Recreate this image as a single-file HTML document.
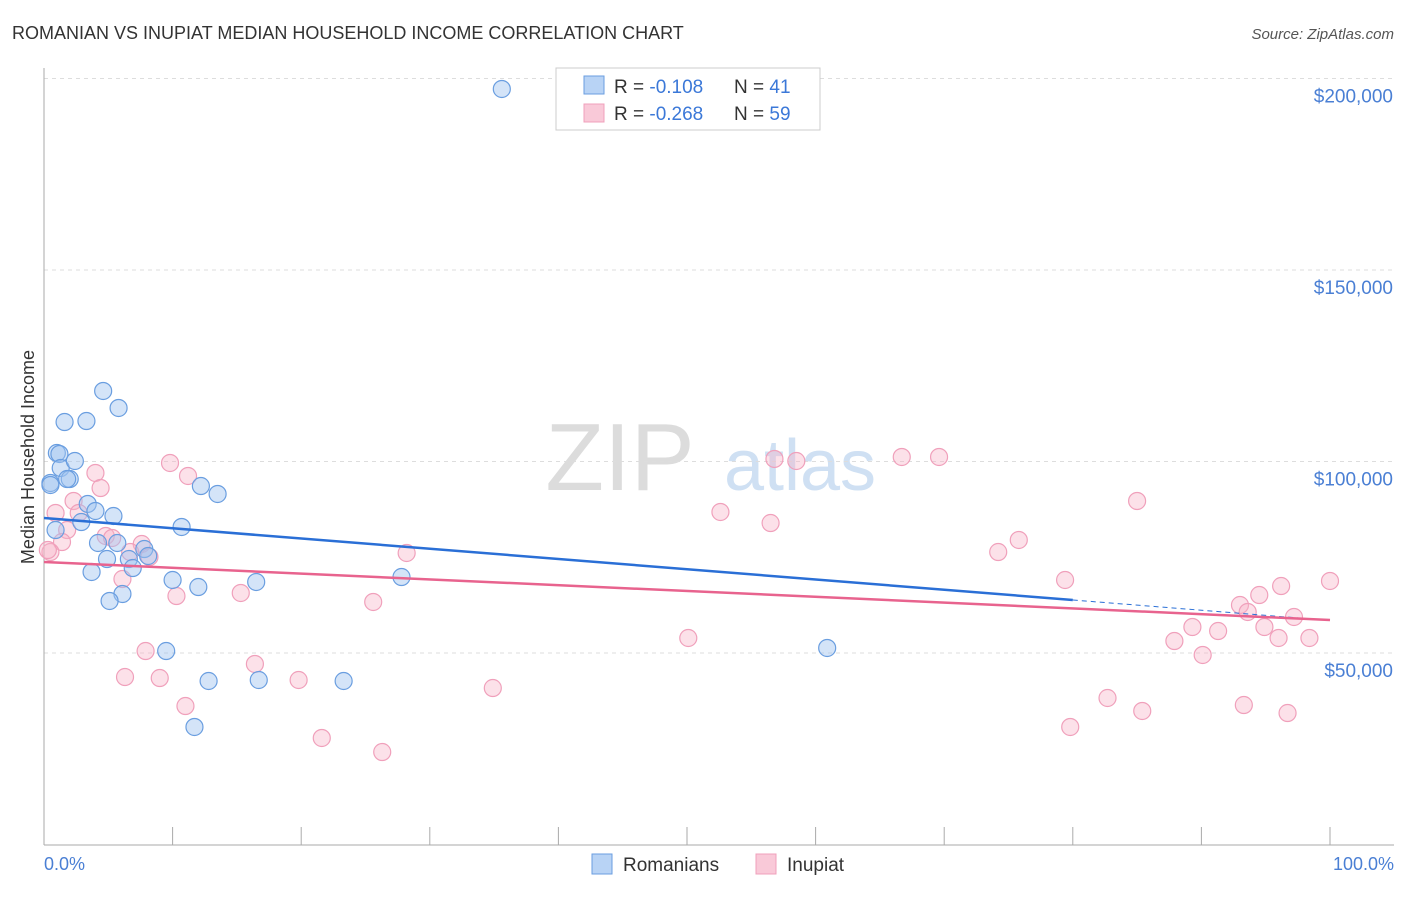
<!DOCTYPE html>
<html><head><meta charset="utf-8"><style>
body{margin:0;background:#fff;font-family:"Liberation Sans",sans-serif;}
svg text{font-family:"Liberation Sans",sans-serif;}
</style></head><body>
<svg id="chart" width="1406" height="892">
<text x="12" y="39" font-size="18" fill="#333">ROMANIAN VS INUPIAT MEDIAN HOUSEHOLD INCOME CORRELATION CHART</text>
<text x="1394" y="39" font-size="15" fill="#555" font-style="italic" text-anchor="end">Source: ZipAtlas.com</text>
<text x="620" y="490" font-size="96" fill="#dcdcdc" font-family="Liberation Serif" text-anchor="middle">ZIP</text>
<text x="800" y="490" font-size="72" fill="#cfe0f3" text-anchor="middle">atlas</text>
<g id="grid"></g><g id="axes"></g><g id="pts"></g><g id="trend"></g>
<text transform="translate(34,457) rotate(-90)" font-size="18" fill="#333" text-anchor="middle">Median Household Income</text>
<text x="44" y="870" font-size="18" fill="#4a7fd4">0.0%</text>
<text x="1394" y="870" font-size="18" fill="#4a7fd4" text-anchor="end">100.0%</text>
<g>
<rect x="556" y="68" width="264" height="62" fill="#fff" stroke="#ccc"/>
<rect x="584" y="76" width="20" height="18" fill="#b8d3f5" stroke="#6a9ee0"/>
<rect x="584" y="104" width="20" height="18" fill="#f9c9d8" stroke="#f0a0bb"/>
<text x="614" y="93" font-size="19" fill="#333">R = <tspan fill="#3b78d8">-0.108</tspan><tspan x="734">N = </tspan><tspan fill="#3b78d8">41</tspan></text>
<text x="614" y="120" font-size="19" fill="#333">R = <tspan fill="#3b78d8">-0.268</tspan><tspan x="734">N = </tspan><tspan fill="#3b78d8">59</tspan></text>
</g>
<g>
<rect x="592" y="854" width="20" height="20" fill="#b8d3f5" stroke="#6a9ee0"/>
<text x="623" y="871" font-size="19" fill="#333">Romanians</text>
<rect x="756" y="854" width="20" height="20" fill="#f9c9d8" stroke="#f0a0bb"/>
<text x="787" y="871" font-size="19" fill="#333">Inupiat</text>
</g>
</svg>
<script>
const yTicks=[50000,100000,150000,200000];
const yTickLabels=["$50,000","$100,000","$150,000","$200,000"];
const xTicks=[0,10,20,30,40,50,60,70,80,90,100];
const blueX=[35.6,4.6,5.8,1.6,3.3,1.0,1.2,1.3,2.4,2.0,1.8,0.5,13.5,12.2,3.4,5.4,4.0,2.9,10.7,4.2,5.7,7.8,6.6,4.9,6.9,3.7,10.0,12.0,16.5,27.8,6.1,5.1,9.5,60.9,12.8,16.7,23.3,11.7,0.5,8.1,0.9];
const blueY=[197260,118410,113970,110310,110570,102220,101960,98300,100130,95430,95430,94390,91520,93600,88910,85770,87080,84200,82900,78720,78720,77150,74540,74540,72190,71150,69060,67230,68540,69840,65410,63580,50520,51310,42690,42950,42690,30680,93870,75330,82110];
const pinkX=[9.8,11.2,4.0,4.4,2.3,0.9,2.7,1.8,1.4,0.5,4.8,5.3,7.6,6.7,8.2,6.1,10.3,15.3,7.9,6.3,9.0,16.4,11.0,25.6,28.2,19.8,21.6,26.3,34.9,50.1,52.6,56.5,56.8,58.5,66.7,69.6,74.2,75.8,79.4,79.8,82.7,85.0,85.4,87.9,89.3,90.1,91.3,93.0,93.3,93.6,94.5,94.9,96.0,96.2,96.7,97.2,98.4,100.0,0.3];
const pinkY=[99610,96220,97000,93080,89690,86560,86560,82110,78980,76370,80550,80030,78460,76370,75070,69320,64880,65670,50520,43730,43470,47130,36160,63320,76110,42950,27810,24150,40860,53920,86820,83940,100660,100130,101180,101180,76370,79510,69060,30680,38250,89690,34860,53130,56790,49480,55740,62530,36420,60710,65140,56790,53920,67490,34330,59400,53920,68800,76890];
const blueTrend=[85250,63840]; const blueTrendEnd=80;
const pinkTrend=[73760,58620];

const NS="http://www.w3.org/2000/svg";
const sx=v=>44+v*12.86;
const sy=v=>844.5-v/50000*191.5;
function mk(tag,attrs,parent){const e=document.createElementNS(NS,tag);for(const k in attrs)e.setAttribute(k,attrs[k]);document.getElementById(parent).appendChild(e);return e;}
yTicks.forEach((t,i)=>{
 const g=mk('line',{x1:44,x2:1394,y1:sy(t),y2:sy(t),stroke:'#ddd','stroke-dasharray':'4,4'},'grid');
 
 
 const l=mk('text',{x:1393,y:sy(t)+24,'font-size':19,fill:'#4a7fd4','text-anchor':'end'},'grid');
 l.textContent=yTickLabels[i];
 
 
});
const ax=mk('line',{x1:44,x2:44,y1:68,y2:845,stroke:'#aaa'},'axes');


const xa=mk('line',{x1:44,x2:1394,y1:845,y2:845,stroke:'#aaa'},'axes');


xTicks.forEach(t=>{
 const k=mk('line',{x1:sx(t),x2:sx(t),y1:827,y2:845,stroke:'#aaa'},'axes');
 
 
});
function pts(X,Y,fill,stroke,name){
 X.forEach((x,i)=>{
  const c=mk('circle',{cx:sx(x),cy:sy(Y[i]),r:8.5,fill:fill,stroke:stroke,'stroke-width':1.2},'pts');
  
  
 });
}
pts(pinkX,pinkY,'rgba(248,180,200,0.4)','#f0a0bb','inupiat-point');
pts(blueX,blueY,'rgba(160,196,240,0.45)','#6a9ee0','romanian-point');
const bs=(blueTrend[1]-blueTrend[0])/blueTrendEnd;
const b1=mk('line',{x1:sx(0),y1:sy(blueTrend[0]),x2:sx(blueTrendEnd),y2:sy(blueTrend[1]),stroke:'#2a6fd6','stroke-width':2.5},'trend');


const b2=mk('line',{x1:sx(blueTrendEnd),y1:sy(blueTrend[1]),x2:sx(100),y2:sy(blueTrend[0]+bs*100),stroke:'#2a6fd6','stroke-width':1,'stroke-dasharray':'5,4'},'trend');


const p1=mk('line',{x1:sx(0),y1:sy(pinkTrend[0]),x2:sx(100),y2:sy(pinkTrend[1]),stroke:'#e8638e','stroke-width':2.5},'trend');


</script>
</body></html>
